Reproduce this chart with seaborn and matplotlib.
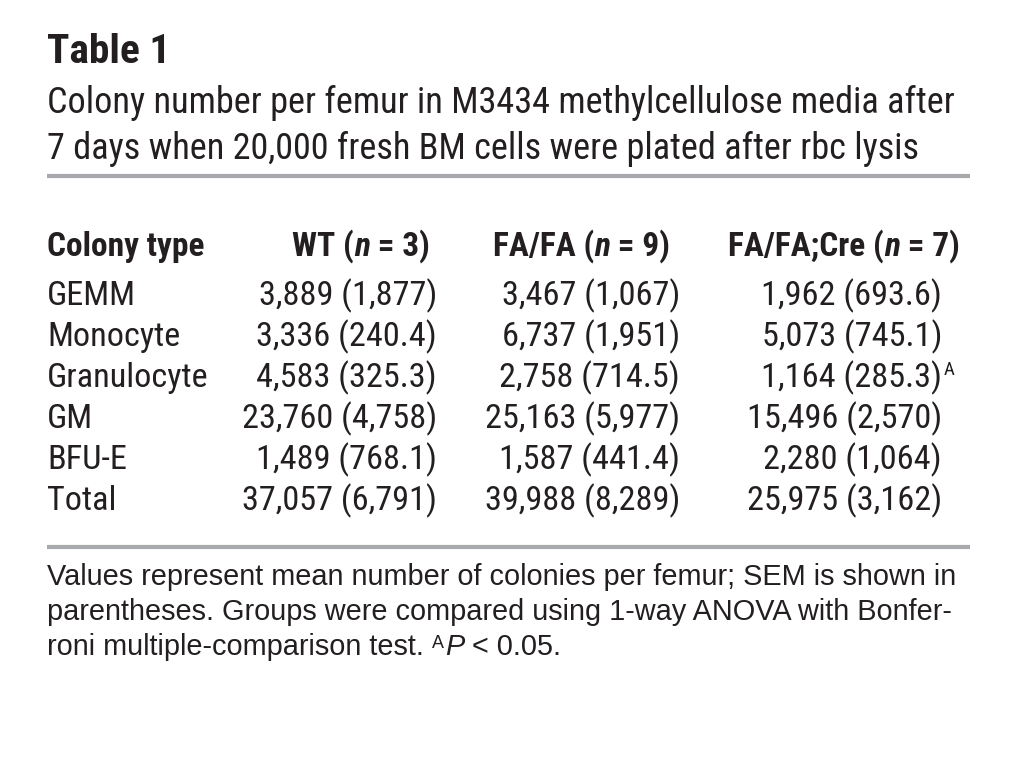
import matplotlib
matplotlib.use("Agg")
import matplotlib.pyplot as plt
import seaborn as sns

sns.set_theme(style="white")
plt.rcParams['font.family'] = ['Roboto Condensed', 'DejaVu Sans']

# Table data
colony_types = ['GEMM', 'Monocyte', 'Granulocyte', 'GM', 'BFU-E', 'Total']
wt_mean = [3889, 3336, 4583, 23760, 1489, 37057]
wt_sem = [1877, 240.4, 325.3, 4758, 768.1, 6791]
fa_mean = [3467, 6737, 2758, 25163, 1587, 39988]
fa_sem = [1067, 1951, 714.5, 5977, 441.4, 8289]
cre_mean = [1962, 5073, 1164, 15496, 2280, 25975]
cre_sem = [693.6, 745.1, 285.3, 2570, 1064, 3162]
cre_sig = [False, False, True, False, False, False]

groups = [('WT', 3), ('FA/FA', 9), ('FA/FA;Cre', 7)]

title = 'Table 1'
subtitle = ['Colony number per femur in M3434 methylcellulose media after',
            '7 days when 20,000 fresh BM cells were plated after rbc lysis']
footnote = ['Values represent mean number of colonies per femur; SEM is shown in',
            'parentheses. Groups were compared using 1-way ANOVA with Bonfer-',
            'roni multiple-comparison test. ']


def fmt(v):
    if isinstance(v, float):
        return f'{v:.1f}'
    return f'{v:,}'


fig = plt.figure(figsize=(10.18, 7.76), dpi=100)
ax = fig.add_axes([0, 0, 1, 1])
ax.set_xlim(0, 1018)
ax.set_ylim(776, 0)
ax.axis('off')
renderer = fig.canvas.get_renderer()

ink = '#231f20'
rule = '#a7a9ac'
cond = ['Roboto Condensed', 'DejaVu Sans']
ffam = ['Liberation Sans', 'DejaVu Sans']


def fit_size(txt, width, **kw):
    # font size that makes txt span the given width in pixels
    t = ax.text(0, 0, txt, fontsize=20, **kw)
    w = t.get_window_extent(renderer).width
    t.remove()
    return 20 * width / w


def runs(x, y, parts, ha='left', **kw):
    # draw text segments one after another; parts = [(text, extra kwargs)]
    arts, widths = [], []
    for txt, style in parts:
        t = ax.text(0, y, txt, va='baseline', ha='left', color=ink, **kw, **style)
        arts.append(t)
        widths.append(t.get_window_extent(renderer).width)
    start = x - sum(widths) if ha == 'right' else x
    for t, w in zip(arts, widths):
        t.set_x(start)
        start += w
    return start


tsize = fit_size(title, 123, fontweight='bold', family=cond)
ax.text(47, 63, title, fontsize=tsize, fontweight='bold', color=ink, va='baseline', family=cond)
ssize = fit_size(subtitle[0], 906, family=cond)
for i, line in enumerate(subtitle):
    ax.text(47, 113 + i * 46, line, fontsize=ssize, color=ink, va='baseline', family=cond)
ax.plot([47, 970], [176, 176], color=rule, lw=3, solid_capstyle='butt')

# header row
hy = 256
hsize = fit_size('Colony type', 157, fontweight='bold', family=cond)
ax.text(47, hy, 'Colony type', fontsize=hsize, fontweight='bold', color=ink, va='baseline', family=cond)
head_right = [430, 670, 960]
for (name, n), xr in zip(groups, head_right):
    runs(xr, hy, [(name + ' (', {}), ('n', {'fontstyle': 'italic'}), (' = ' + str(n) + ')', {})],
         ha='right', fontsize=hsize, fontweight='bold', family=cond)

# body rows
row_y0 = 305
row_step = 41
dsize = fit_size('23,760 (4,758)', 195, family=cond)
col_right = [437, 680, 942]
cols = [(wt_mean, wt_sem), (fa_mean, fa_sem), (cre_mean, cre_sem)]
for i, ct in enumerate(colony_types):
    y = row_y0 + i * row_step
    ax.text(47, y, ct, fontsize=dsize, color=ink, va='baseline', family=cond)
    for (means, sems), xr in zip(cols, col_right):
        ax.text(xr, y, f'{fmt(means[i])} ({fmt(sems[i])})', fontsize=dsize,
                color=ink, va='baseline', ha='right', family=cond)
    if cre_sig[i]:
        ax.text(col_right[2] + 2, y - 12, 'A', fontsize=dsize * 0.55, color=ink,
                va='baseline', family=cond)

ax.plot([47, 970], [547, 547], color=rule, lw=3, solid_capstyle='butt')

# footnote
fsize = fit_size(footnote[0], 908, family=ffam)
for i, line in enumerate(footnote):
    y = 585 + i * 35
    if i < len(footnote) - 1:
        ax.text(47, y, line, fontsize=fsize, color=ink, va='baseline', family=ffam)
    else:
        x = runs(47, y, [(line, {})], fontsize=fsize, family=ffam)
        x = runs(x, y - 7, [('A', {})], fontsize=fsize * 0.62, family=ffam)
        runs(x + 1, y, [('P', {'fontstyle': 'italic'}), (' < 0.05.', {})], fontsize=fsize, family=ffam)

fig.savefig('out.png', dpi=100, facecolor='white')
